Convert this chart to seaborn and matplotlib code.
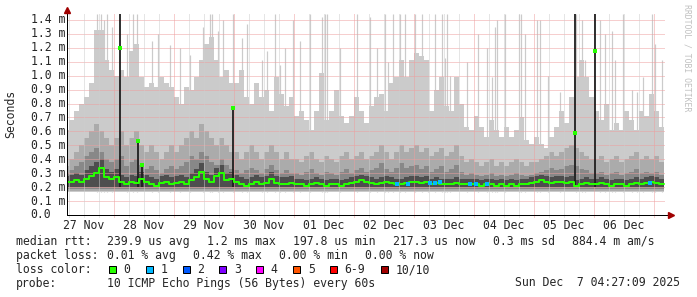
import numpy as np
import pandas as pd
import matplotlib
matplotlib.use("Agg")
import matplotlib.pyplot as plt
from matplotlib.patches import Rectangle
from matplotlib.transforms import blended_transform_factory
import seaborn as sns

# ---------------- data (hours since 27 Nov 00:00, values in ms) ----------------
bin_start = 4      # first 2-hour bin starts 27 Nov 04:00
bin_hours = 2

smoke_top = [0.61, 0.68, 0.75, 0.80, 0.85, 0.95, 1.33, 1.33, 1.11, 1.04,
             1.00, 1.04, 0.99, 1.18, 1.23, 0.99, 0.92, 0.95, 0.92, 0.99, 0.95, 0.92,
             0.85, 0.80, 0.92, 0.90, 0.99, 1.11, 1.23, 1.28, 1.11, 0.99, 1.04, 0.95,
             0.95, 1.04, 0.85, 0.80, 0.95, 0.85, 0.90, 0.75, 0.99, 0.87, 0.78, 0.85,
             0.71, 0.75, 0.68, 0.61, 0.75, 1.02, 0.68, 0.75, 0.90, 0.71, 0.66, 0.71,
             0.85, 0.75, 0.66, 0.78, 0.85, 0.87, 0.75, 0.95, 0.99, 1.11, 0.99, 1.11,
             1.16, 1.14, 1.11, 0.75, 0.90, 0.99, 0.78, 0.75, 0.99, 0.80, 0.63, 0.61,
             0.71, 0.63, 0.56, 0.68, 0.61, 0.56, 0.63, 0.56, 0.61, 0.70, 0.54, 0.51,
             0.56, 0.51, 0.48, 0.56, 0.63, 0.75, 0.66, 0.85, 0.99, 1.11, 0.99, 0.85,
             0.75, 0.68, 0.80, 0.61, 0.66, 0.61, 0.75, 0.68, 0.61, 0.75, 0.71, 0.87,
             0.75, 0.63]

smoke_mid = [0.35, 0.40, 0.45, 0.50, 0.55, 0.60, 0.65, 0.60, 0.55, 0.50,
             0.55, 0.60, 0.50, 0.55, 0.60, 0.50, 0.45, 0.50, 0.45, 0.40, 0.45, 0.50,
             0.45, 0.50, 0.55, 0.60, 0.55, 0.65, 0.60, 0.55, 0.50, 0.55, 0.50, 0.45,
             0.45, 0.40, 0.45, 0.50, 0.45, 0.40, 0.45, 0.50, 0.45, 0.40, 0.45, 0.40,
             0.40, 0.38, 0.42, 0.45, 0.40, 0.38, 0.42, 0.40, 0.38, 0.42, 0.45, 0.40,
             0.42, 0.45, 0.40, 0.42, 0.45, 0.50, 0.45, 0.40, 0.45, 0.50, 0.45, 0.48,
             0.50, 0.45, 0.48, 0.42, 0.45, 0.48, 0.42, 0.45, 0.50, 0.42, 0.38, 0.40,
             0.38, 0.35, 0.38, 0.40, 0.35, 0.38, 0.35, 0.38, 0.40, 0.38, 0.35, 0.38,
             0.38, 0.40, 0.42, 0.45, 0.42, 0.45, 0.48, 0.50, 0.48, 0.45, 0.42, 0.40,
             0.40, 0.42, 0.38, 0.40, 0.42, 0.38, 0.40, 0.42, 0.45, 0.40, 0.42, 0.40,
             0.42, 0.38]

smoke_dark = [0.30, 0.32, 0.35, 0.38, 0.42, 0.45, 0.48, 0.45, 0.40, 0.38,
              0.40, 0.42, 0.35, 0.38, 0.40, 0.36, 0.33, 0.35, 0.32, 0.30, 0.33, 0.35,
              0.33, 0.35, 0.38, 0.42, 0.40, 0.45, 0.42, 0.38, 0.36, 0.40, 0.36, 0.33,
              0.32, 0.30, 0.32, 0.34, 0.32, 0.30, 0.33, 0.36, 0.32, 0.30, 0.32, 0.30,
              0.30, 0.29, 0.31, 0.33, 0.30, 0.29, 0.31, 0.30, 0.29, 0.31, 0.33, 0.30,
              0.32, 0.34, 0.31, 0.32, 0.34, 0.37, 0.33, 0.31, 0.34, 0.37, 0.34, 0.35,
              0.36, 0.33, 0.35, 0.31, 0.33, 0.35, 0.31, 0.33, 0.36, 0.31, 0.29, 0.30,
              0.29, 0.28, 0.29, 0.30, 0.28, 0.29, 0.28, 0.29, 0.30, 0.29, 0.28, 0.29,
              0.30, 0.31, 0.32, 0.34, 0.32, 0.33, 0.35, 0.36, 0.35, 0.33, 0.32, 0.30,
              0.30, 0.31, 0.29, 0.30, 0.31, 0.29, 0.30, 0.31, 0.33, 0.30, 0.31, 0.30,
              0.31, 0.29]

smoke_core = [0.28, 0.29, 0.30, 0.29, 0.32, 0.35, 0.38, 0.40, 0.33, 0.31,
              0.33, 0.29, 0.27, 0.29, 0.28, 0.31, 0.29, 0.27, 0.26, 0.28, 0.29, 0.27,
              0.28, 0.29, 0.27, 0.30, 0.33, 0.37, 0.31, 0.29, 0.34, 0.36, 0.30, 0.31,
              0.29, 0.27, 0.26, 0.27, 0.29, 0.27, 0.28, 0.31, 0.28, 0.27, 0.27, 0.28,
              0.26, 0.26, 0.25, 0.26, 0.27, 0.26, 0.25, 0.26, 0.26, 0.25, 0.26, 0.27,
              0.28, 0.29, 0.28, 0.27, 0.26, 0.27, 0.28, 0.27, 0.26, 0.26, 0.27, 0.28,
              0.28, 0.27, 0.28, 0.26, 0.27, 0.26, 0.26, 0.26, 0.27, 0.26, 0.26, 0.26,
              0.26, 0.25, 0.26, 0.26, 0.25, 0.26, 0.25, 0.26, 0.25, 0.26, 0.26, 0.27,
              0.28, 0.29, 0.28, 0.27, 0.28, 0.28, 0.27, 0.28, 0.25, 0.26, 0.27, 0.26,
              0.26, 0.27, 0.26, 0.25, 0.26, 0.26, 0.25, 0.26, 0.27, 0.26, 0.27, 0.28,
              0.27, 0.26]

median_ms = [0.24, 0.24, 0.25, 0.24, 0.26, 0.28, 0.30, 0.34, 0.27, 0.26,
             0.27, 0.24, 0.22, 0.24, 0.23, 0.26, 0.24, 0.22, 0.21, 0.23, 0.24, 0.22,
             0.23, 0.24, 0.22, 0.25, 0.27, 0.31, 0.26, 0.24, 0.28, 0.30, 0.25, 0.26,
             0.24, 0.22, 0.21, 0.22, 0.24, 0.22, 0.23, 0.26, 0.23, 0.22, 0.22, 0.23,
             0.22, 0.22, 0.21, 0.22, 0.23, 0.22, 0.21, 0.22, 0.22, 0.21, 0.22, 0.23,
             0.24, 0.25, 0.24, 0.23, 0.22, 0.23, 0.24, 0.23, 0.22, 0.22, 0.23, 0.24,
             0.24, 0.23, 0.24, 0.22, 0.23, 0.22, 0.22, 0.22, 0.23, 0.22, 0.22, 0.22,
             0.22, 0.21, 0.22, 0.22, 0.21, 0.22, 0.21, 0.22, 0.21, 0.22, 0.22, 0.23,
             0.24, 0.25, 0.24, 0.23, 0.24, 0.24, 0.23, 0.24, 0.21, 0.22, 0.23, 0.22,
             0.22, 0.23, 0.22, 0.21, 0.22, 0.22, 0.21, 0.22, 0.23, 0.22, 0.23, 0.24,
             0.23, 0.22]

smoke_floor = [0.165, 0.175, 0.185, 0.20]

spike_hours = [17.2, 18.8, 20.0, 21.2, 23.2, 29.2, 31.6, 33.2, 39.2, 41.6, 46.4,
               50.4, 54.4, 59.6, 62.4, 63.2, 65.6, 67.6, 71.6, 75.2, 77.2, 83.2,
               85.2, 88.4, 90.4, 92.4, 95.6, 98.4, 102.4, 107.2, 108.4, 109.2,
               114.4, 121.2, 126.4, 129.2, 132.4, 133.6, 135.6, 138.4, 140.4,
               144.4, 147.2, 149.6, 152.4, 155.2, 156.4, 157.2, 158.4, 165.2,
               169.6, 173.2, 175.2, 176.4, 177.2, 180.4, 186.0, 186.8, 188.4,
               193.2, 194.4, 197.6, 202.4, 208.8, 211.2, 212.4, 218.4, 220.4,
               223.2, 224.4, 227.6, 231.2, 233.2, 235.6, 239.2, 240.4, 243.2]
spike_tops = [1.44, 1.44, 1.40, 1.44, 1.35, 1.30, 1.44, 1.44, 1.25, 1.30, 1.22,
              1.20, 1.15, 1.35, 1.44, 1.44, 1.32, 1.40, 1.44, 1.27, 1.37, 1.11,
              1.18, 1.44, 1.08, 1.20, 1.40, 1.25, 1.44, 1.42, 1.44, 1.44,
              1.20, 1.44, 1.42, 1.20, 1.44, 1.10, 1.44, 1.44, 1.44,
              1.44, 1.44, 1.10, 1.44, 1.44, 1.13, 1.44, 1.00, 1.10,
              1.30, 1.20, 0.99, 1.35, 1.40, 1.44, 1.44, 1.44, 1.30,
              1.40, 1.40, 1.00, 0.88, 1.44, 1.40, 1.11, 1.40, 1.30,
              1.32, 1.11, 1.44, 0.90, 0.88, 0.99, 1.44, 1.23, 1.11]

dark_hours = [26.4, 33.6, 35.2, 71.6, 208.4, 216.4]
dark_tops = [1.443, 0.53, 0.37, 0.77, 1.443, 1.443]
dark_medians = [1.20, 0.53, 0.36, 0.77, 0.59, 1.18]

loss1_hours = [137.2, 141.6, 150.4, 152.4, 154.4, 166.4, 168.8, 173.2, 238.4]
loss1_values = [0.22, 0.22, 0.23, 0.23, 0.24, 0.22, 0.22, 0.22, 0.23]

day_labels = ["27 Nov", "28 Nov", "29 Nov", "30 Nov", "01 Dec",
              "02 Dec", "03 Dec", "04 Dec", "05 Dec", "06 Dec"]
y_tick_values = [0.0, 0.1, 0.2, 0.3, 0.4, 0.5, 0.6, 0.7, 0.8, 0.9, 1.0, 1.1, 1.2, 1.3, 1.4]

loss_labels = ["0", "1", "2", "3", "4", "5", "6-9", "10/10"]
loss_colors = ["#26ff00", "#00b8ff", "#0059ff", "#7e00ff", "#ff00ff", "#ff5500", "#ff0000", "#a10000"]

view_start, view_end = 5.2, 244.4
y_max = 1.443

# ---------------- figure ----------------
sns.set_style("white")
plt.rcParams['font.family'] = ['DejaVu Sans Mono']
FS = 8.3
W, H = 697, 297
fig = plt.figure(figsize=(W / 100, H / 100), dpi=100)
fig.patch.set_facecolor("white")
ax = fig.add_axes([67 / W, (H - 215) / H, (665 - 67) / W, (215 - 14) / H])
ax.set_facecolor("white")

edges = bin_start + bin_hours * np.arange(len(smoke_top) + 1)


def stepvals(v):
    v = np.asarray(v, dtype=float)
    return np.append(v, v[-1])


px = 0.72  # one pixel in points

ax.fill_between(edges, smoke_floor[0], stepvals(smoke_top), step="post",
                color="#cbcbcb", lw=0, zorder=1)
ax.vlines(spike_hours, smoke_floor[0], spike_tops, colors="#cbcbcb", lw=1.2 * px, zorder=1)
ax.fill_between(edges, smoke_floor[1], stepvals(smoke_mid), step="post",
                color="#ababab", lw=0, zorder=1)
ax.fill_between(edges, smoke_floor[2], stepvals(smoke_dark), step="post",
                color="#888888", lw=0, zorder=1)
ax.fill_between(edges, smoke_floor[3], stepvals(smoke_core), step="post",
                color="#4e4e4e", lw=0, zorder=1)

# grid (drawn over the smoke, like rrdtool), 1px dotted lines
for v in y_tick_values[1:]:
    ax.axhline(v, color="#ee9f9f", lw=px, ls=(0, (1, 1)), zorder=2)
for h in range(6, 246, 6):
    if view_start < h < view_end:
        col = "#ee9f9f" if h % 24 == 0 else "#cdcdcd"
        ax.axvline(h, ymin=-0.012, color=col, lw=px, ls=(0, (1, 1)), zorder=2, clip_on=False)

# dark spikes
ax.vlines(dark_hours, smoke_floor[3], dark_tops, colors="#1e1e1e", lw=1.8 * px, zorder=3)

# median line
med_df = pd.DataFrame({"hour": edges, "median": stepvals(median_ms)})
sns.lineplot(data=med_df, x="hour", y="median", drawstyle="steps-post", estimator=None,
             color=loss_colors[0], lw=1.45, ax=ax, zorder=4)
sns.scatterplot(x=dark_hours, y=dark_medians, marker="s", s=5, color=loss_colors[0],
                linewidth=0, ax=ax, zorder=5)
sns.scatterplot(x=loss1_hours, y=loss1_values, marker="s", s=6, color=loss_colors[1],
                linewidth=0, ax=ax, zorder=5)

ax.set_xlim(view_start, view_end)
ax.set_ylim(0, y_max)
ax.set_xlabel("")
ax.set_ylabel("")
for s in ax.spines.values():
    s.set_visible(False)

ax.set_xticks([12 + 24 * i for i in range(len(day_labels))])
ax.set_xticklabels(day_labels, fontsize=FS)
ax.tick_params(axis="x", length=0, pad=3.0)
ax.set_yticks([])

# y tick labels
trans = blended_transform_factory(fig.transFigure, ax.transData)
for v in y_tick_values:
    lbl = "0.0" if v == 0 else f"{v:.1f} m"
    ax.text(30.5 / W, v, lbl, transform=trans, ha="left", va="center", fontsize=FS)

# axes lines with arrows
ax.plot([0, 0], [0, 1 + 6 / 201], transform=ax.transAxes, color="black", lw=px, clip_on=False, zorder=6)
ax.plot([0, (671 - 67) / 598], [0, 0], transform=ax.transAxes, color="black", lw=px, clip_on=False, zorder=6)
ax.plot([0], [1 + 4.5 / 201], transform=ax.transAxes, marker="^", ms=4.2, color="#a00000",
        clip_on=False, zorder=7)
ax.plot([(671 - 67) / 598], [0], transform=ax.transAxes, marker=">", ms=4.2, color="#a00000",
        clip_on=False, zorder=7)

# labels
fig.text(11 / W, 1 - 113.5 / H, "Seconds", rotation=90, ha="center", va="center", fontsize=FS)
fig.text(687 / W, 1 - 4 / H, "RRDTOOL / TOBI OETIKER", rotation=-90, ha="center", va="top",
         fontsize=5.9, color="#c0c0c0")


def ftext(x, y, s, **kw):
    fig.text(x / W, 1 - y / H, s, va="center", ha=kw.pop("ha", "left"), fontsize=FS, **kw)


y1, y2, y3, y4 = 241.3, 255.3, 269.7, 283.0
ftext(16, y1, "median rtt:")
for x, s in zip([107.3, 207.3, 293.3, 393.0, 493.0, 572.0],
                ["239.9 us avg", "1.2 ms max", "197.8 us min", "217.3 us now", "0.3 ms sd", "884.4 m am/s"]):
    ftext(x, y1, s)
ftext(16, y2, "packet loss:")
for x, s in zip([107.3, 193.3, 279.3, 365.3],
                ["0.01 % avg", "0.42 % max", "0.00 % min", "0.00 % now"]):
    ftext(x, y2, s)
ftext(16, y3, "loss color:")
box_x = [108.7, 145.7, 182.7, 219.3, 256.3, 293.3, 330.0, 381.3]
for bx, lbl, col in zip(box_x, loss_labels, loss_colors):
    fig.add_artist(Rectangle((bx / W, 1 - (y3 + 3.6) / H), 7 / W, 7.2 / H,
                             transform=fig.transFigure, facecolor=col, edgecolor="black", lw=px))
    ftext(bx + 14.6, y3, lbl)
ftext(16, y4, "probe:")
ftext(107.3, y4, "10 ICMP Echo Pings (56 Bytes) every 60s")
ftext(680.3, y4, "Sun Dec  7 04:27:09 2025", ha="right")

fig.savefig("out.png", dpi=100)
